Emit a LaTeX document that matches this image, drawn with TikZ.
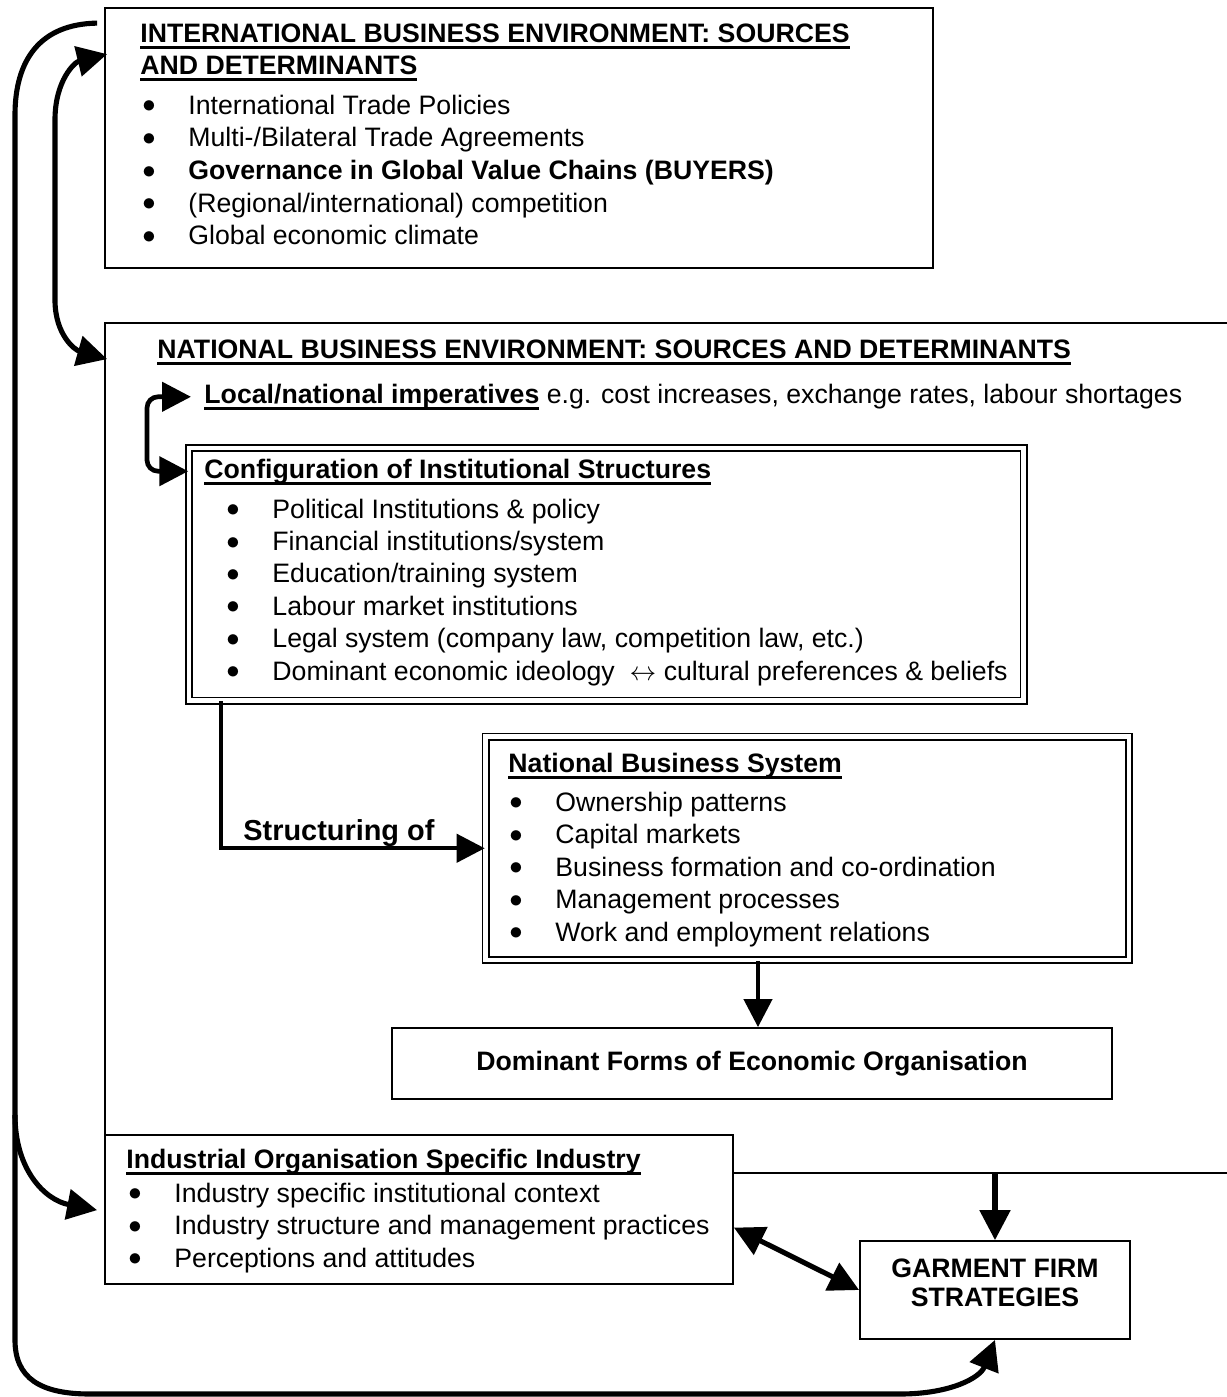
\documentclass[tikz,border=0pt]{standalone}
\usepackage{fontspec}
\setmainfont{Liberation Sans}
\usetikzlibrary{arrows.meta,fit,calc}

% underline drawn at a fixed depth below the baseline
\newcommand\ulbar[1]{{\setbox0\hbox{#1}\rlap{\vrule width\wd0 height -1.7pt depth 3.1pt}\box0}}
% bullet followed by the item's hanging indent
\newcommand\bul{\makebox[20.7pt][l]{\raisebox{0.6pt}{$\bullet$}}}

\begin{document}
\begin{tikzpicture}[x=0.45pt,y=-0.45pt,
  box/.style={draw, line width=0.8pt, inner sep=0pt},
  dbox/.style={draw, line width=0.7pt, double, double distance=2.2pt, inner sep=0pt},
  txt/.style={anchor=base west, inner sep=0pt, font=\fontsize{12}{13.4}\selectfont},
  ctxt/.style={anchor=base, inner sep=0pt, font=\fontsize{12}{13.4}\selectfont\bfseries},
  bigarrow/.style={line width=2.3pt, -{Triangle[length=13.5pt,width=13.5pt]}},
  bigboth/.style={line width=2.3pt, {Triangle[length=13.5pt,width=13.5pt]}-{Triangle[length=13.5pt,width=13.5pt]}},
  midarrow/.style={line width=1.9pt, -{Triangle[length=12.6pt,width=12.6pt]}},
  midboth/.style={line width=2.1pt, {Triangle[length=13pt,width=13pt]}-{Triangle[length=13pt,width=13pt]}},
]
\useasboundingbox (0,0) rectangle (1226,1397);

% ---------- box corners ----------
\coordinate (intl-nw) at (105,8);     \coordinate (intl-se) at (933,268);
\coordinate (nat-nw)  at (105,323);   \coordinate (nat-se)  at (1240,1173);
\coordinate (conf-nw) at (189,448);   \coordinate (conf-se) at (1023.5,700.5);
\coordinate (nbs-nw)  at (485.5,736.5); \coordinate (nbs-se) at (1129,960);
\coordinate (dom-nw)  at (392,1028);  \coordinate (dom-se)  at (1112,1099);
\coordinate (ind-nw)  at (105,1135);  \coordinate (ind-se)  at (733,1284);
\coordinate (gar-nw)  at (860,1241);  \coordinate (gar-se)  at (1130,1339);

% ---------- boxes ----------
\node[box, fit=(intl-nw)(intl-se)] (intl) {};
\node[box, fit=(nat-nw)(nat-se)] (nat) {};
\node[dbox, fit=(conf-nw)(conf-se)] (conf) {};
\node[dbox, fit=(nbs-nw)(nbs-se)] (nbs) {};
\node[box, fit=(dom-nw)(dom-se)] (dom) {};
\node[box, fill=white, fit=(ind-nw)(ind-se)] (ind) {};
\node[box, fit=(gar-nw)(gar-se)] (garment) {};

% ---------- international environment ----------
\node[txt] (intl-t1) at (140,42) {\ulbar{\textbf{INTERNATIONAL BUSINESS ENVIRONMENT: SOURCES}}};
\node[txt] (intl-t2) at (140,74) {\ulbar{\textbf{AND DETERMINANTS}}};
\node[txt] (intl-1) at (142,114) {\bul International Trade Policies};
\node[txt] (intl-2) at (142,146.7) {\bul Multi-/Bilateral Trade Agreements};
\node[txt] (intl-3) at (142,179.4) {\bul \textbf{Governance in Global Value Chains (BUYERS)}};
\node[txt] (intl-4) at (142,212.1) {\bul (Regional/international) competition};
\node[txt] (intl-5) at (142,244.8) {\bul Global economic climate};

% ---------- national environment ----------
\node[txt] (nat-t) at (157,358) {\ulbar{\textbf{NATIONAL BUSINESS ENVIRONMENT: SOURCES AND DETERMINANTS}}};
\node[txt] (local) at (204,403) {\ulbar{\textbf{Local/national imperatives}} e.g. cost increases, exchange rates, labour shortages};

% ---------- institutional structures ----------
\node[txt] (conf-t) at (204,478) {\ulbar{\textbf{Configuration of Institutional Structures}}};
\node[txt] (conf-1) at (226,518) {\bul Political Institutions \& policy};
\node[txt] (conf-2) at (226,550.4) {\bul Financial institutions/system};
\node[txt] (conf-3) at (226,582.8) {\bul Education/training system};
\node[txt] (conf-4) at (226,615.2) {\bul Labour market institutions};
\node[txt] (conf-5) at (226,647.6) {\bul Legal system (company law, competition law, etc.)};
\node[txt] (conf-6) at (226,680) {\bul Dominant economic ideology~~$\leftrightarrow$ cultural preferences \& beliefs};

% ---------- national business system ----------
\node[txt] (nbs-t) at (508,772) {\ulbar{\textbf{National Business System}}};
\node[txt] (nbs-1) at (509,811) {\bul Ownership patterns};
\node[txt] (nbs-2) at (509,843.5) {\bul Capital markets};
\node[txt] (nbs-3) at (509,876) {\bul Business formation and co-ordination};
\node[txt] (nbs-4) at (509,908.5) {\bul Management processes};
\node[txt] (nbs-5) at (509,941) {\bul Work and employment relations};

\node[txt, font=\fontsize{13}{15}\selectfont\bfseries] (struct) at (243,840) {Structuring of};

% ---------- outcomes ----------
\node[ctxt] (dom-t) at (752,1070) {Dominant Forms of Economic Organisation};

\node[txt] (ind-t) at (126,1168) {\ulbar{\textbf{Industrial Organisation Specific Industry}}};
\node[txt] (ind-1) at (128,1202) {\bul Industry specific institutional context};
\node[txt] (ind-2) at (128,1234.5) {\bul Industry structure and management practices};
\node[txt] (ind-3) at (128,1267) {\bul Perceptions and attitudes};

\node[ctxt] (gar-t1) at (995,1277) {GARMENT FIRM};
\node[ctxt] (gar-t2) at (995,1306) {STRATEGIES};

% ---------- connectors ----------
% feedback loop from the international level down to the firm
\coordinate (fb-start) at ($(intl.north west)+(-7,16)$);
\coordinate (fb-branch) at (15,1115);
\coordinate (ind-in) at ($(ind.north west)+(-7,76)$);
\draw[bigarrow] (fb-start) .. controls (40,24) and (15,60) .. (15,115)
  -- (15,1340) .. controls (15,1378) and (40,1394) .. (90,1394)
  -- (900,1394) .. controls (950,1394) and (980,1378) .. (garment.south);
\draw[bigarrow] (fb-branch) .. controls (15,1170) and (45,1200) .. (ind-in);

% international <-> national
\coordinate (intl-in) at ($(intl.north west)+(3,47)$);
\coordinate (nat-in) at ($(nat.north west)+(3,37)$);
\draw[bigboth] (intl-in) .. controls (75,62) and (55,80) .. (55,120)
  -- (55,300) .. controls (55,335) and (75,350) .. (nat-in);

% local imperatives <-> institutional structures
\coordinate (local-in) at ($(local.west)+(-13,0)$);
\coordinate (conf-in) at ($(conf.north west)+(0,24)$);
\draw[midboth, rounded corners=5pt] (local-in) -- ($(local-in)+(-44,0)$) |- (conf-in);

% structuring of the national business system
\draw[midarrow] ($(conf.south west)+(33,0)$) |- ($(nbs.north west)!0.5!(nbs.south west)$);

\coordinate (dom-in) at ($(dom.north)+(6,0)$);
\draw[midarrow] (nbs.south -| dom-in) -- (dom-in);
\draw[bigarrow] (nat.south -| garment.north) -- (garment.north);
\draw[bigboth] ($(ind.south east)!0.38!(ind.north east)$) -- (garment.west);

\end{tikzpicture}
\end{document}
